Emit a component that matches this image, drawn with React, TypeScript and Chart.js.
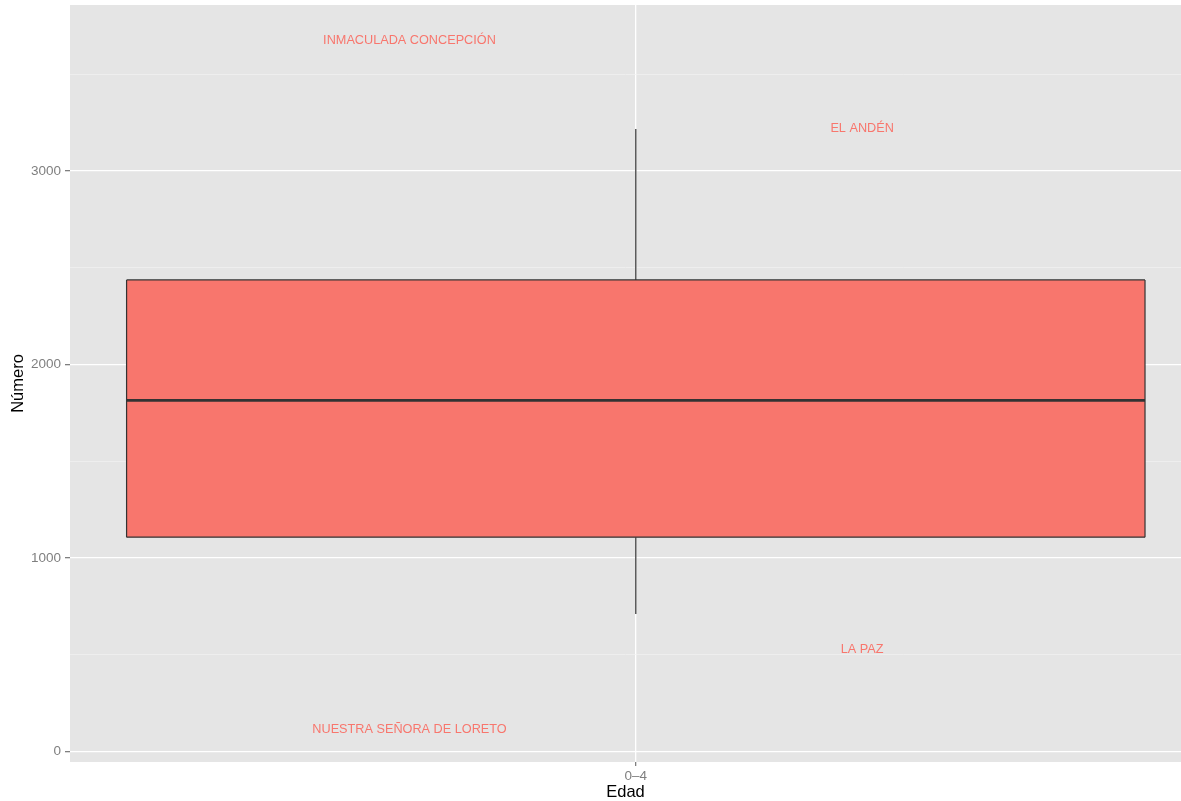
import React, { useEffect, useRef } from "react";
import { Chart, registerables } from "chart.js";

Chart.register(...registerables);

// ---- data ----
const categories = ["0–4"];
const boxStats = { min: 711, q1: 1108, median: 1815, q3: 2437, max: 3216 };
const labelTexts = ["INMACULADA CONCEPCIÓN", "EL ANDÉN", "LA PAZ", "NUESTRA SEÑORA DE LORETO"];
const labelX = [0.8, 1.2, 1.2, 0.8];
const labelY = [3679, 3226, 536, 125];
const yMajorTicks = [0, 1000, 2000, 3000];
const yMinorTicks = [500, 1500, 2500, 3500];

const FILL = "#F8766D";
const EDGE = "#333333";
const FONT = "'Liberation Sans', Arial, Helvetica, sans-serif";

export default function App() {
  const ref = useRef<HTMLCanvasElement | null>(null);

  useEffect(() => {
    const canvas = ref.current!;
    const half = 0.45;
    const cx = 1;
    const s = boxStats;
    const seg = (pts: number[][]) => pts.map(([x, y]) => ({ x, y }));
    const lineDs = (data: any, extra: any = {}) => ({
      type: "scatter" as const,
      data,
      showLine: true,
      pointRadius: 0,
      borderColor: EDGE,
      borderWidth: 1.2,
      fill: false,
      ...extra,
    });

    const panelBg = {
      id: "panelBg",
      beforeDraw(chart: any) {
        const { ctx, chartArea: a } = chart;
        ctx.save();
        ctx.fillStyle = "#E5E5E5";
        ctx.fillRect(a.left, a.top, a.right - a.left, a.bottom - a.top);
        ctx.restore();
      },
    };

    const textLabels = {
      id: "textLabels",
      afterDatasetsDraw(chart: any) {
        const { ctx, scales } = chart;
        ctx.save();
        ctx.font = `12.7px ${FONT}`;
        ctx.fillStyle = FILL;
        ctx.textAlign = "center";
        ctx.textBaseline = "middle";
        labelTexts.forEach((t, i) => {
          ctx.fillText(t, scales.x.getPixelForValue(labelX[i]), scales.y.getPixelForValue(labelY[i]) + 1.5);
        });
        ctx.restore();
      },
    };

    const chart = new Chart(canvas, {
      type: "scatter",
      data: {
        datasets: [
          lineDs(seg([[cx - half, s.q3], [cx + half, s.q3]]), { fill: "+1", backgroundColor: FILL }),
          lineDs(seg([[cx - half, s.q1], [cx + half, s.q1]])),
          lineDs(seg([[cx - half, s.q1], [cx - half, s.q3]])),
          lineDs(seg([[cx + half, s.q1], [cx + half, s.q3]])),
          lineDs(seg([[cx - half, s.median], [cx + half, s.median]]), { borderWidth: 2.6 }),
          lineDs(seg([[cx, s.q3], [cx, s.max]])),
          lineDs(seg([[cx, s.min], [cx, s.q1]])),
        ] as any,
      },
      options: {
        responsive: false,
        animation: false,
        layout: { padding: { top: 5, right: 0, left: 0, bottom: 0 } },
        plugins: {
          legend: { display: false },
          tooltip: { enabled: false },
          filler: { drawTime: "beforeDatasetsDraw" },
        } as any,
        scales: {
          x: {
            type: "linear",
            min: 0.5,
            max: 1.4818,
            border: { display: false },
            afterBuildTicks: (sc: any) => {
              sc.ticks = [{ value: 1 }];
            },
            afterFit: (sc: any) => {
              sc.height = 39;
              sc.paddingLeft = 0;
              sc.paddingRight = 0;
            },
            grid: {
              color: "#FFFFFF",
              lineWidth: 1.3,
              tickColor: "#7F7F7F",
              tickLength: 4,
            },
            ticks: {
              color: "#7F7F7F",
              font: { family: FONT, size: 13.5 },
              padding: 2,
              maxRotation: 0,
              callback: () => categories[0],
            },
            title: {
              display: true,
              text: "Edad",
              color: "#000000",
              font: { family: FONT, size: 16.5, lineHeight: 1 },
              padding: { top: 0, bottom: 0 },
            },
          },
          y: {
            type: "linear",
            min: -53,
            max: 3857,
            border: { display: false },
            afterBuildTicks: (sc: any) => {
              sc.ticks = [...yMajorTicks, ...yMinorTicks].sort((a, b) => a - b).map((v) => ({ value: v }));
            },
            afterFit: (sc: any) => {
              sc.width = 70;
              sc.paddingTop = 0;
              sc.paddingBottom = 0;
            },
            grid: {
              color: (c: any) => (yMajorTicks.includes(c.tick?.value) ? "#FFFFFF" : "#F2F2F2"),
              lineWidth: (c: any) => (yMajorTicks.includes(c.tick?.value) ? 1.3 : 0.7),
              tickColor: (c: any) => (yMajorTicks.includes(c.tick?.value) ? "#7F7F7F" : "rgba(0,0,0,0)"),
              tickLength: 5,
            },
            ticks: {
              color: "#7F7F7F",
              font: { family: FONT, size: 13.5 },
              padding: 4,
              callback: (v: any) => (yMajorTicks.includes(Number(v)) ? String(v) : ""),
            },
            title: {
              display: true,
              text: "Número",
              color: "#000000",
              font: { family: FONT, size: 16.5, lineHeight: 1 },
              padding: { top: 10, bottom: 0 },
            },
          },
        },
      },
      plugins: [panelBg, textLabels],
    });
    return () => chart.destroy();
  }, []);

  return (
    <div style={{ position: "absolute", left: 0, top: 0, width: 1181, height: 801, background: "#fff" }}>
      <canvas ref={ref} width={1181} height={801} style={{ display: "block" }} />
    </div>
  );
}
